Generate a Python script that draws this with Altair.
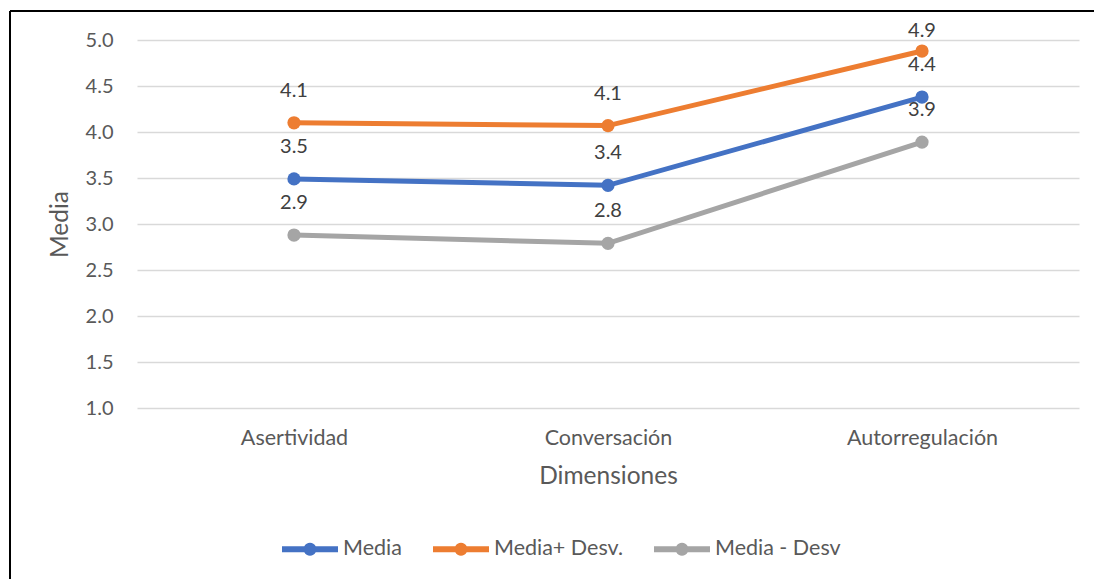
import altair as alt
import pandas as pd

categories = ["Asertividad", "Conversación", "Autorregulación"]
series_names = ["Media", "Media+ Desv.", "Media - Desv"]
media = [3.49, 3.42, 4.38]
media_mas = [4.10, 4.07, 4.88]
media_menos = [2.88, 2.79, 3.89]
colors = ["#4472C4", "#ED7D31", "#A5A5A5"]
y_ticks = [1.0, 1.5, 2.0, 2.5, 3.0, 3.5, 4.0, 4.5, 5.0]

rows = []
for name, vals in zip(series_names, [media, media_mas, media_menos]):
    for c, v in zip(categories, vals):
        rows.append({"Dimensiones": c, "Serie": name, "Media": v})
df = pd.DataFrame(rows)

FONT = "Lato"
TXT = "#595959"

x_enc = alt.X("Dimensiones:N", sort=categories,
              scale=alt.Scale(type="point", padding=0.5),
              axis=alt.Axis(title="Dimensiones", labelAngle=0, labelFontSize=21.5,
                            labelFont=FONT, labelColor=TXT, labelPadding=19,
                            titleFont=FONT, titleFontSize=24.5, titleColor=TXT,
                            titleFontWeight="normal", titlePadding=16,
                            ticks=False, domain=False, grid=False))
y_scale = alt.Scale(domain=[1, 5], nice=False, zero=False)
y_axis = alt.Axis(title="Media", values=y_ticks, format=".1f",
                  labelFontSize=20, labelFont=FONT, labelColor=TXT,
                  labelPadding=24, titleFont=FONT, titleFontSize=24.5,
                  titleColor=TXT, titleFontWeight="normal", titlePadding=13,
                  ticks=False, domain=False, gridColor="#D9D9D9", gridWidth=1.5)
y_enc = alt.Y("Media:Q", scale=y_scale, axis=y_axis)

legend_path = ("M-1,-0.107 L-0.204,-0.107 A0.23,0.23 0 0,1 0.204,-0.107 L1,-0.107 "
               "L1,0.107 L0.204,0.107 A0.23,0.23 0 0,1 -0.204,0.107 L-1,0.107 Z")

legend_color = alt.Color("Serie:N", sort=series_names,
                         scale=alt.Scale(domain=series_names, range=colors),
                         legend=alt.Legend(title=None, orient="none", direction="horizontal",
                                           legendX=145, legendY=481,
                                           symbolType=legend_path, symbolSize=3136,
                                           symbolStrokeWidth=0, symbolOpacity=1,
                                           labelFont=FONT, labelFontSize=21.5,
                                           labelColor=TXT, labelOffset=5,
                                           columnPadding=31))
plain_color = alt.Color("Serie:N", sort=series_names,
                        scale=alt.Scale(domain=series_names, range=colors), legend=None)

base = alt.Chart(df)
lines = base.mark_line(strokeWidth=5).encode(x=x_enc, y=y_enc, color=plain_color)
points = base.mark_point(filled=True, size=175, opacity=1).encode(
    x=x_enc, y=y_enc, color=legend_color)
# data labels sit above each point, kept inside the chart area at the top
labels = base.transform_calculate(
    lab="min(datum.Media + 0.348, 5.1)"
).mark_text(font=FONT, fontSize=20, color="#404040", baseline="middle").encode(
    x=x_enc, y=alt.Y("lab:Q", scale=y_scale, axis=y_axis),
    text=alt.Text("Media:Q", format=".1f"))

border_top = alt.Chart(pd.DataFrame({"a": [0]})).mark_rule(color="black", strokeWidth=2).encode(
    x=alt.value(-127), x2=alt.value(960), y=alt.value(-29))
border_left = alt.Chart(pd.DataFrame({"a": [0]})).mark_rule(color="black", strokeWidth=2).encode(
    x=alt.value(-127), y=alt.value(-29), y2=alt.value(545))

chart = alt.layer(lines, points, labels, border_top, border_left).resolve_scale(
    color="independent"
).properties(
    width=942, height=368,
    autosize=alt.AutoSizeParams(type="none"),
    padding={"left": 137, "top": 40, "right": 15, "bottom": 171},
    background="white",
).configure_view(stroke=None)

chart.save("out.html", embed_options={"renderer": "svg", "actions": False})
